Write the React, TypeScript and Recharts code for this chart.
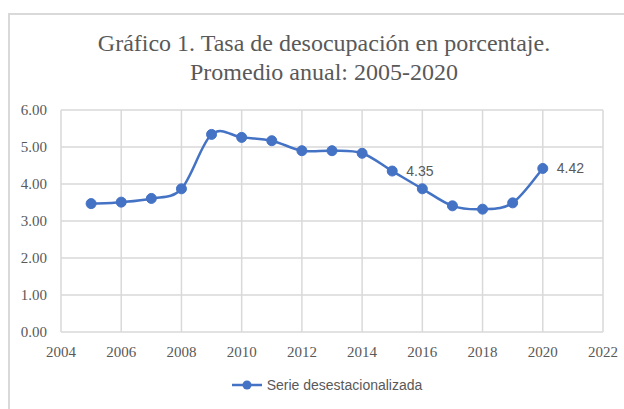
import { LineChart, Line, XAxis, YAxis, CartesianGrid, Legend, LabelList } from "recharts";

const years = [2005, 2006, 2007, 2008, 2009, 2010, 2011, 2012, 2013, 2014, 2015, 2016, 2017, 2018, 2019, 2020];
const rates = [3.47, 3.51, 3.61, 3.87, 5.34, 5.26, 5.17, 4.9, 4.9, 4.83, 4.35, 3.87, 3.41, 3.32, 3.49, 4.42];
const labeledYears = [2015, 2020];
const xTicks = [2004, 2006, 2008, 2010, 2012, 2014, 2016, 2018, 2020, 2022];
const yTicks = [0, 1, 2, 3, 4, 5, 6];

const data = years.map((year, i) => ({ year, rate: rates[i] }));

const BLUE = "#4472C4";
const GREY = "#595959";
const SERIF = "Liberation Serif, Times New Roman, serif";
const SANS = "Liberation Sans, Arial, sans-serif";

// smoothed line like Excel (catmull-rom style bezier)
function smoothCurve(context: any) {
  let pts: number[][] = [];
  return {
    areaStart() {},
    areaEnd() {},
    lineStart() {
      pts = [];
    },
    point(x: number, y: number) {
      pts.push([+x, +y]);
    },
    lineEnd() {
      if (!pts.length) return;
      context.moveTo(pts[0][0], pts[0][1]);
      for (let i = 0; i < pts.length - 1; i++) {
        const p0 = pts[i - 1] || pts[i];
        const p1 = pts[i];
        const p2 = pts[i + 1];
        const p3 = pts[i + 2] || p2;
        context.bezierCurveTo(
          p1[0] + (p2[0] - p0[0]) / 6,
          p1[1] + (p2[1] - p0[1]) / 6,
          p2[0] - (p3[0] - p1[0]) / 6,
          p2[1] - (p3[1] - p1[1]) / 6,
          p2[0],
          p2[1]
        );
      }
    },
  };
}

const renderTick = (props: any, fmt: (v: number) => string) => {
  const { x, y, payload, textAnchor } = props;
  return (
    <text
      x={x}
      y={y}
      dy={textAnchor === "middle" ? 11 : 5}
      textAnchor={textAnchor}
      fill={GREY}
      style={{ fontFamily: SERIF, fontSize: 15 }}
    >
      {fmt(payload.value)}
    </text>
  );
};

const renderLabel = (props: any) => {
  const { x, y, value, index } = props;
  if (!labeledYears.includes(years[index])) return null;
  return (
    <text x={x + 14} y={y + 5} fill={GREY} style={{ fontFamily: SANS, fontSize: 14 }}>
      {Number(value).toFixed(2)}
    </text>
  );
};

const renderLegend = () => (
  <div style={{ height: 36, paddingLeft: 50, display: "flex", alignItems: "center", justifyContent: "center" }}>
    <svg width={32} height={12} style={{ marginRight: 4 }}>
      <line x1={1} y1={6} x2={31} y2={6} stroke={BLUE} strokeWidth={2.5} />
      <circle cx={16} cy={6} r={4.5} fill={BLUE} />
    </svg>
    <span style={{ fontFamily: SANS, fontSize: 14, color: GREY }}>Serie desestacionalizada</span>
  </div>
);

export default function App() {
  return (
    <div style={{ position: "absolute", left: 0, top: 0, width: 624, height: 409, background: "#fff", overflow: "hidden" }}>
      <div
        style={{
          position: "absolute",
          left: 8,
          top: 13,
          width: 640,
          height: 420,
          borderLeft: "2px solid #D9D9D9",
          borderTop: "2px solid #D9D9D9",
        }}
      />
      <div
        style={{
          position: "absolute",
          left: 0,
          top: 29,
          width: 648,
          textAlign: "center",
          fontFamily: SERIF,
          fontSize: 24,
          lineHeight: "29px",
          color: GREY,
        }}
      >
        Gráfico 1. Tasa de desocupación en porcentaje.
        <br />
        Promedio anual: 2005-2020
      </div>
      <div style={{ position: "absolute", left: 0, top: 0 }}>
        <LineChart width={624} height={409} data={data} margin={{ top: 110, right: 21, bottom: 6, left: 0 }}>
          <CartesianGrid stroke="#D9D9D9" strokeWidth={1.5} />
          <XAxis
            dataKey="year"
            type="number"
            domain={[2004, 2022]}
            ticks={xTicks}
            height={35}
            axisLine={false}
            tickLine={false}
            tickSize={12}
            tickMargin={2}
            tick={(p: any) => renderTick(p, (v) => String(v))}
          />
          <YAxis
            type="number"
            domain={[0, 6]}
            ticks={yTicks}
            width={61}
            axisLine={false}
            tickLine={false}
            tickSize={12}
            tickMargin={2}
            tick={(p: any) => renderTick(p, (v) => v.toFixed(2))}
          />
          <Legend verticalAlign="bottom" content={renderLegend} />
          <Line
            dataKey="rate"
            type={smoothCurve as any}
            stroke={BLUE}
            strokeWidth={2.5}
            dot={{ r: 5, fill: BLUE, stroke: BLUE, strokeWidth: 1 }}
            activeDot={false}
            isAnimationActive={false}
          >
            <LabelList dataKey="rate" content={renderLabel} />
          </Line>
        </LineChart>
      </div>
    </div>
  );
}
